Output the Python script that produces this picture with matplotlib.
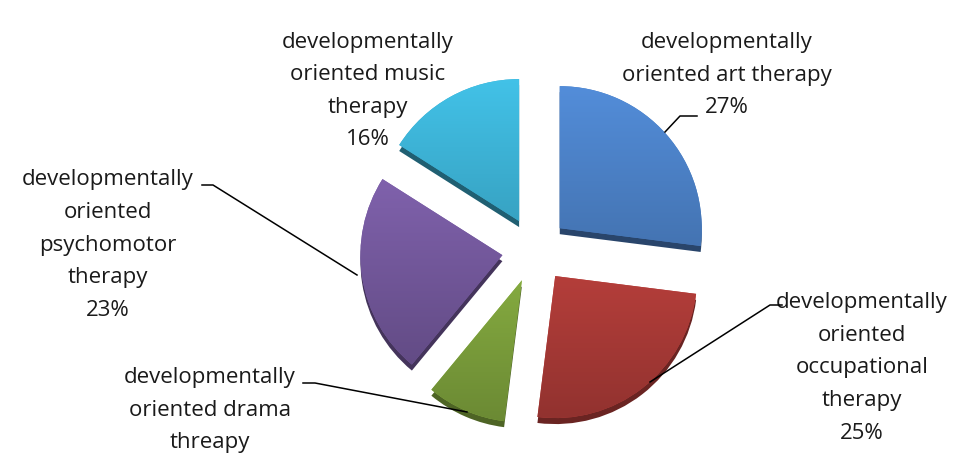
import numpy as np
import matplotlib
matplotlib.use("Agg")
import matplotlib.pyplot as plt
from matplotlib.patches import Wedge
from matplotlib.colors import to_rgb

# ── data ──────────────────────────────────────────────────────────────────────
labels = ["developmentally\noriented art therapy",
          "developmentally\noriented\noccupational\ntherapy",
          "developmentally\noriented drama\nthreapy",
          "developmentally\noriented\npsychomotor\ntherapy",
          "developmentally\noriented music\ntherapy"]
values = [27, 25, 9, 23, 16]
colors = ["#4a7ec2", "#c0423e", "#8db544", "#7b5ea6", "#3badcf"]

W, H = 965, 463
CX, CY, R = 535, H - 250, 142
EXPLODE = 33   # pixels (pie's explode is in data units)

def py(y):
    return H - y   # picture rows -> data y (y up)

fig = plt.figure(figsize=(W / 100, H / 100), dpi=100)
ax = fig.add_axes([0, 0, 1, 1])

wedges, _ = ax.pie(values, startangle=90, counterclock=False,
                   explode=[EXPLODE] * len(values), radius=R, center=(CX, CY),
                   colors=colors, wedgeprops=dict(linewidth=0))

# fake 3D side + vertical shading for each wedge
grad = np.linspace(1.12, 0.76, 256)[:, None]
for w, c in zip(wedges, colors):
    rgb = np.array(to_rgb(c))
    (x0, y0) = w.center
    side = Wedge((x0, y0 - 6), w.r, w.theta1, w.theta2,
                 facecolor=rgb * 0.55, linewidth=0, zorder=0.5)
    ax.add_patch(side)
    w.set_zorder(1)
    img = np.clip(grad[..., None] * rgb[None, None, :], 0, 1)
    img = np.repeat(img, 2, axis=1)
    im = ax.imshow(img, extent=(x0 - R, x0 + R, y0 - R, y0 + R),
                   origin="upper", zorder=1.1, interpolation="bilinear")
    im.set_clip_path(w)

txt = dict(ha="center", va="center", fontsize=16, family="Open Sans",
           color="#1a1a1a", linespacing=1.72)
pcts = [f"{v}%" for v in values]

# label positions (text centres, picture coords)
ax.text(727, py(75), labels[0] + "\n" + pcts[0], **txt)
ax.text(862, py(368), labels[1] + "\n" + pcts[1], **txt)
ax.text(210, py(410), labels[2], **txt)   # its "9%" line falls off the canvas
ax.text(108, py(245), labels[3] + "\n" + pcts[3], **txt)
ax.text(368, py(91), labels[4] + "\n" + pcts[4], **txt)

# leader lines
lk = dict(color="black", lw=1.1, zorder=3)
ax.plot([665, 680, 697], [py(132), py(116), py(116)], **lk)
ax.plot([650, 770, 782], [py(382), py(305), py(305)], **lk)
ax.plot([467, 315, 303], [py(412), py(383), py(383)], **lk)
ax.plot([357, 213, 202], [py(275), py(185), py(185)], **lk)

ax.set_xlim(0, W)
ax.set_ylim(0, H)
ax.set_aspect("auto")
ax.axis("off")

fig.savefig("out.png", dpi=100, facecolor="white")
